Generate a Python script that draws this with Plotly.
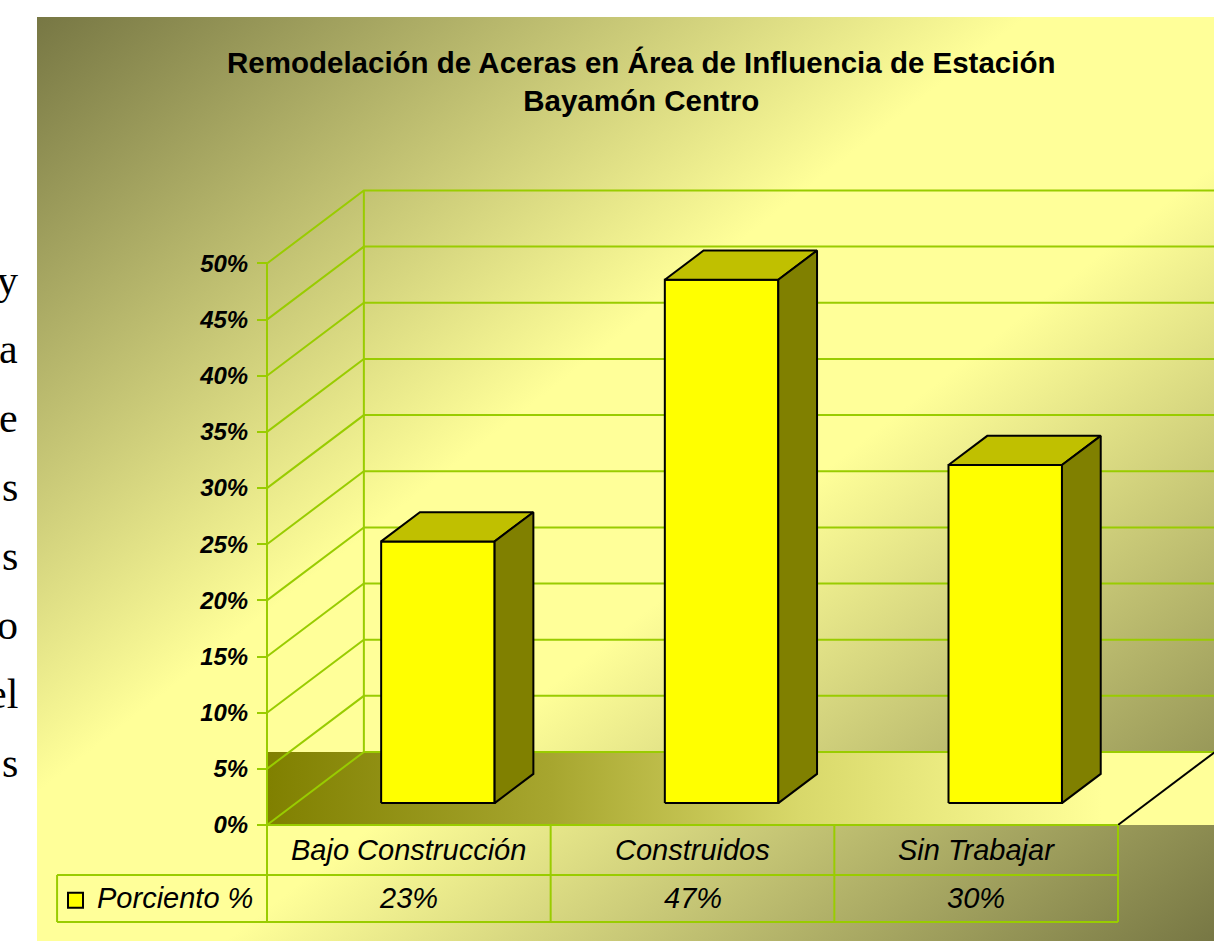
import base64
import plotly.graph_objects as go

# ---------------- data ----------------
categories = ["Bajo Construcción", "Construidos", "Sin Trabajar"]
values = [23.3, 46.6, 30.1]
series_name = "Porciento %"
tick_values = [0, 5, 10, 15, 20, 25, 30, 35, 40, 45, 50]
title_lines = ["Remodelación de Aceras en Área de Influencia de Estación", "Bayamón Centro"]
side_text = ["y", "a", "e", "s", "s", "o", "el", "s"]

# ---------------- layout / style constants ----------------
W, H = 1214, 941
FONT = "Liberation Sans, Arial, sans-serif"
GREEN = "#99cc00"
X_RANGE = [-0.9412, 3.3384]     # category units
Y_RANGE = [-10.33, 73.46]       # percent units
DX, DY = 0.3415, 6.5            # full depth of the 3-D box in axis units
D0, D1 = 0.3, 0.7               # bar depth start / end (fraction of depth)
HALF = 0.2                      # half bar width (category units)
ROW1, ROW2 = -4.45, -8.64       # data-table row bottoms (percent units)
LEG_LEFT = -0.74                # left edge of legend cell (category units)

n = len(categories)
vmax = max(tick_values)
fig = go.Figure()

# ---------------- floor ----------------
fx = [0, n + DX, n + DX, 0, 0]
fy = [0, 0, DY, DY, 0]
fig.add_trace(go.Scatter(
    x=fx, y=fy, mode="lines", fill="toself", line=dict(width=0),
    fillgradient=dict(type="horizontal", colorscale=[
        [0.0, "#808000"], [0.3, "#a7a62f"], [0.56, "#d8d86a"],
        [0.88, "#ffff99"], [1.0, "#ffff99"]]),
    hoverinfo="skip", showlegend=False))

# ---------------- walls & gridlines ----------------
gx, gy = [], []
for v in tick_values:
    gx += [0, DX, n + DX, None]
    gy += [v, v + DY, v + DY, None]
gx += [0, 0, None, DX, DX, None]
gy += [0, vmax, None, DY, vmax + DY, None]
fig.add_trace(go.Scatter(x=gx, y=gy, mode="lines",
                         line=dict(color=GREEN, width=2),
                         hoverinfo="skip", showlegend=False))

# floor right edge
fig.add_trace(go.Scatter(x=[n, n + DX], y=[0, DY], mode="lines",
                         line=dict(color="black", width=2),
                         hoverinfo="skip", showlegend=False))

# ---------------- 3-D bars ----------------
for i, v in enumerate(values):
    c = i + 0.5
    l, r = c - HALF, c + HALF
    ox0, oy0 = D0 * DX, D0 * DY
    ox1, oy1 = D1 * DX, D1 * DY
    faces = [
        ([l + ox0, r + ox0, r + ox0, l + ox0, l + ox0],
         [oy0, oy0, v + oy0, v + oy0, oy0], "#ffff00"),
        ([l + ox0, r + ox0, r + ox1, l + ox1, l + ox0],
         [v + oy0, v + oy0, v + oy1, v + oy1, v + oy0], "#c0c000"),
        ([r + ox0, r + ox1, r + ox1, r + ox0, r + ox0],
         [oy0, oy1, v + oy1, v + oy0, oy0], "#808000"),
    ]
    for xs, ys, col in faces:
        fig.add_trace(go.Scatter(x=xs, y=ys, mode="lines", fill="toself",
                                 fillcolor=col,
                                 line=dict(color="black", width=2),
                                 hoverinfo="skip", showlegend=False))

# ---------------- data table ----------------
tx, ty = [], []
tx += [0, n, None]; ty += [0, 0, None]
tx += [LEG_LEFT, n, None]; ty += [ROW1, ROW1, None]
tx += [LEG_LEFT, n, None]; ty += [ROW2, ROW2, None]
tx += [LEG_LEFT, LEG_LEFT, None]; ty += [ROW1, ROW2, None]
for k in range(n + 1):
    tx += [k, k, None]; ty += [0, ROW2, None]
fig.add_trace(go.Scatter(x=tx, y=ty, mode="lines",
                         line=dict(color=GREEN, width=2),
                         hoverinfo="skip", showlegend=False))

cell_font = dict(family=FONT, size=29, color="black", style="italic")
for i, (cat, v) in enumerate(zip(categories, values)):
    fig.add_annotation(x=i + 0.5, y=ROW1 / 2, xref="x", yref="y", text=cat,
                       showarrow=False, font=cell_font)
    fig.add_annotation(x=i + 0.5, y=(ROW1 + ROW2) / 2, xref="x", yref="y",
                       text=f"{v:.0f}%", showarrow=False, font=cell_font)

# legend key
fig.add_trace(go.Scatter(x=[LEG_LEFT + 0.065], y=[(ROW1 + ROW2) / 2 - 0.15],
                         mode="markers",
                         marker=dict(symbol="square", size=15, color="#ffff00",
                                     line=dict(color="black", width=2)),
                         hoverinfo="skip", showlegend=False))
fig.add_annotation(x=LEG_LEFT + 0.135, y=(ROW1 + ROW2) / 2, xref="x", yref="y",
                   text=series_name, showarrow=False, xanchor="left",
                   font=cell_font)

# ---------------- title ----------------
fig.add_annotation(x=641 / W, y=1 - 82 / H, xref="paper", yref="paper",
                   text="<br>".join(f"<b>{t}</b>" for t in title_lines),
                   showarrow=False, xanchor="center", yanchor="middle",
                   font=dict(family=FONT, size=29.5, color="black"))

# ---------------- slide text behind chart ----------------
for k, t in enumerate(side_text):
    fig.add_annotation(x=20 / W, y=1 - (280 + 69 * k) / H, xref="paper", yref="paper",
                       text=t, showarrow=False, xanchor="right", yanchor="middle",
                       font=dict(family="Liberation Serif, Times New Roman, serif",
                                 size=42, color="black"))

# ---------------- background gradient ----------------
svg = ('<svg xmlns="http://www.w3.org/2000/svg" width="400" height="300" '
       'viewBox="0 0 400 300" preserveAspectRatio="none"><defs>'
       '<linearGradient id="g" x1="0" y1="0" x2="1" y2="1">'
       '<stop offset="0" stop-color="#777744"/>'
       '<stop offset="0.42" stop-color="#ffff99"/>'
       '<stop offset="0.58" stop-color="#ffff99"/>'
       '<stop offset="1" stop-color="#777744"/>'
       '</linearGradient></defs>'
       '<rect x="0" y="0" width="400" height="300" fill="url(#g)"/></svg>')
src = "data:image/svg+xml;base64," + base64.b64encode(svg.encode()).decode()
fig.add_layout_image(source=src, xref="paper", yref="paper",
                     x=37 / W, y=1 - 17 / H, sizex=(W - 37) / W, sizey=(H - 17) / H,
                     xanchor="left", yanchor="top", sizing="stretch", layer="below")

fig.update_layout(
    width=W, height=H,
    margin=dict(l=0, r=0, t=0, b=0),
    paper_bgcolor="white", plot_bgcolor="rgba(0,0,0,0)",
    showlegend=False,
    xaxis=dict(range=X_RANGE, visible=False, fixedrange=True),
    yaxis=dict(range=Y_RANGE, anchor="free", position=267 / W,
               tickvals=tick_values, ticktext=[f"{t}%" for t in tick_values],
               ticks="outside", ticklen=10, tickwidth=2, tickcolor=GREEN,
               ticklabelstandoff=4,
               showline=False, showgrid=False, zeroline=False,
               tickfont=dict(family=FONT, size=24, color="black",
                             weight="bold", style="italic"),
               fixedrange=True),
)

fig.write_html("out.html", config={"displayModeBar": False},
               post_script="document.body.style.margin='0';")
